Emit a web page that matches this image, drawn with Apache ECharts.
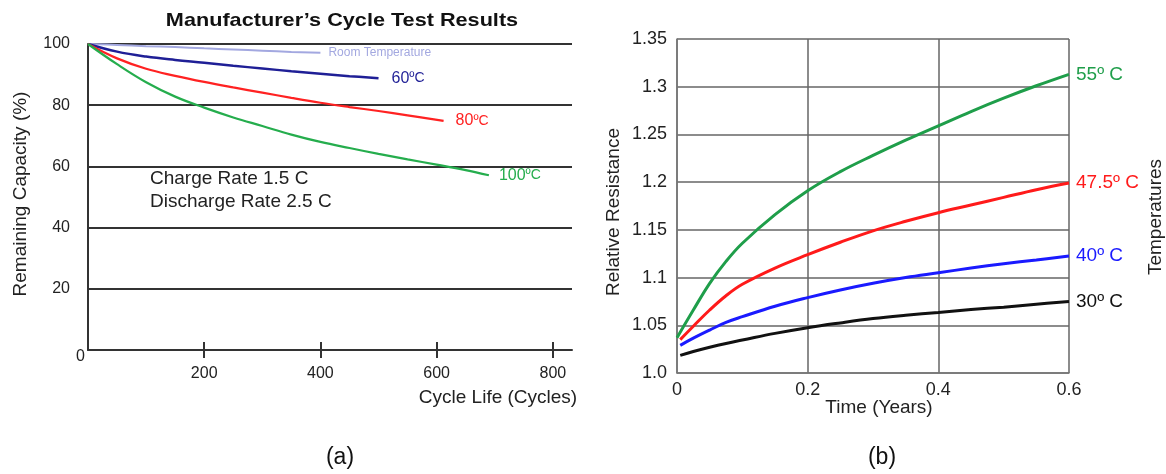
<!DOCTYPE html>
<html><head><meta charset="utf-8">
<script src="https://cdn.jsdelivr.net/npm/echarts@6/dist/echarts.min.js"></script>
<style>html,body{margin:0;padding:0;background:#fff}#c{width:1166px;height:474px}</style>
</head><body><div id="c"></div>
<script>
// ---------- Chart (a): Manufacturer's Cycle Test Results ----------
const leftXTicks = [200, 400, 600, 800];
const leftYTicks = [0, 20, 40, 60, 80, 100];

const roomCycles = [0, 50, 100, 150, 200, 250, 300, 350, 400];
const roomCap    = [100, 99.7, 99.3, 99.0, 98.6, 98.2, 97.8, 97.4, 97.1];

const c60Cycles = [0, 50, 100, 150, 200, 250, 300, 350, 400, 450, 500];
const c60Cap    = [100, 97.5, 95.9, 94.8, 93.9, 92.9, 92.0, 91.1, 90.3, 89.5, 88.8];

const c80Cycles = [0, 50, 100, 150, 200, 250, 300, 350, 400, 450, 500, 550, 612];
const c80Cap    = [100, 95.3, 91.9, 89.6, 87.6, 85.8, 84.1, 82.4, 80.8, 79.4, 78.1, 76.7, 74.9];

const c100Cycles = [0, 50, 100, 150, 200, 250, 300, 350, 400, 450, 500, 550, 600, 650, 690];
const c100Cap    = [100, 93.4, 87.5, 82.8, 79.2, 76.0, 73.2, 70.4, 68.0, 66.0, 64.1, 62.3, 60.6, 58.8, 57.1];

// ---------- Chart (b): Relative Resistance vs Time ----------
const rightXLabels = ['0', '0.2', '0.4', '0.6'];
const rightYLabels = ['1.0', '1.05', '1.1', '1.15', '1.2', '1.25', '1.3', '1.35'];

const t55 = [0.0, 0.025, 0.05, 0.075, 0.1, 0.15, 0.2, 0.25, 0.3, 0.35, 0.4, 0.45, 0.5, 0.55, 0.6];
const r55 = [1.037, 1.066, 1.094, 1.117, 1.136, 1.166, 1.191, 1.211, 1.228, 1.244, 1.259, 1.274, 1.288, 1.301, 1.313];

const t475 = [0.005, 0.025, 0.05, 0.075, 0.1, 0.15, 0.2, 0.25, 0.3, 0.35, 0.4, 0.45, 0.5, 0.55, 0.6];
const r475 = [1.035, 1.049, 1.066, 1.081, 1.093, 1.110, 1.124, 1.137, 1.149, 1.159, 1.168, 1.176, 1.184, 1.192, 1.199];

const t40 = [0.005, 0.025, 0.05, 0.075, 0.1, 0.15, 0.2, 0.25, 0.3, 0.35, 0.4, 0.45, 0.5, 0.55, 0.6];
const r40 = [1.029, 1.0365, 1.045, 1.053, 1.059, 1.070, 1.079, 1.087, 1.094, 1.100, 1.105, 1.110, 1.1145, 1.1185, 1.1225];

const t30 = [0.005, 0.025, 0.05, 0.075, 0.1, 0.15, 0.2, 0.25, 0.3, 0.35, 0.4, 0.45, 0.5, 0.55, 0.6];
const r30 = [1.0185, 1.0225, 1.027, 1.031, 1.0345, 1.0415, 1.0475, 1.0525, 1.057, 1.0605, 1.0635, 1.0665, 1.069, 1.072, 1.075];

const zip = (a, b) => a.map((v, i) => [v, b[i]]);
const FONT = '"Liberation Sans", Arial, sans-serif';

const chart = echarts.init(document.getElementById('c'), null, {renderer: 'canvas'});

function leftLine(name, xs, ys, color, width, labelRich, dist) {
  return {
    type: 'line', name: name, xAxisIndex: 0, yAxisIndex: 0,
    data: zip(xs, ys), smooth: 0.4, showSymbol: false, symbol: 'none',
    lineStyle: {color: color, width: width}, itemStyle: {color: color},
    endLabel: {show: true, formatter: labelRich, distance: dist, color: color, fontFamily: FONT,
      rich: {n: {fontSize: 16, color: color, fontFamily: FONT}, u: {fontSize: 14, color: color, fontFamily: FONT}}},
    emphasis: {disabled: true}, silent: true, z: 3
  };
}
function rightLine(name, xs, ys, color, label) {
  return {
    type: 'line', name: name, xAxisIndex: 2, yAxisIndex: 1,
    data: zip(xs, ys), smooth: 0.4, showSymbol: false, symbol: 'none',
    lineStyle: {color: color, width: 3}, itemStyle: {color: color},
    endLabel: {show: true, formatter: label, distance: 7, color: color, fontSize: 19, fontFamily: FONT},
    emphasis: {disabled: true}, silent: true, z: 3
  };
}

chart.setOption({
  animation: false,
  backgroundColor: '#fff',
  textStyle: {fontFamily: FONT},
  grid: [
    {left: 88, right: 594, top: 44, bottom: 124, containLabel: false},
    {left: 677, right: 97, top: 39, bottom: 101, containLabel: false}
  ],
  xAxis: [
    {gridIndex: 0, type: 'value', min: 0, max: 833, interval: 200, position: 'bottom',
     axisLine: {show: true, lineStyle: {color: '#333', width: 2}},
     axisTick: {show: true, customValues: leftXTicks, length: 8, lineStyle: {color: '#333', width: 2}},
     axisLabel: {customValues: leftXTicks, color: '#222', fontSize: 16, margin: 16, fontFamily: FONT},
     splitLine: {show: false}},
    {gridIndex: 0, type: 'value', min: 0, max: 833, interval: 200, position: 'bottom',
     axisLine: {show: false},
     axisTick: {show: true, inside: true, customValues: leftXTicks, length: 8, lineStyle: {color: '#333', width: 2}},
     axisLabel: {show: false}, splitLine: {show: false}},
    {gridIndex: 1, type: 'value', min: 0, max: 0.6, interval: 0.2,
     axisLine: {show: true, lineStyle: {color: '#777', width: 1.5}},
     axisTick: {show: false},
     axisLabel: {color: '#222', fontSize: 18, margin: 8, fontFamily: FONT,
       formatter: v => rightXLabels[Math.round(v / 0.2)]},
     splitLine: {show: true, lineStyle: {color: '#666', width: 1.5}}}
  ],
  yAxis: [
    {gridIndex: 0, type: 'value', min: 0, max: 100, interval: 20,
     axisLine: {show: true, lineStyle: {color: '#333', width: 2}},
     axisTick: {show: false},
     axisLabel: {margin: 3, fontFamily: FONT,
       formatter: v => v === 0 ? '{z|' + leftYTicks[0] + '}' : '{n|' + leftYTicks[leftYTicks.indexOf(v)] + '}',
       rich: {n: {fontSize: 16, color: '#222', padding: [0, 15, 0, 0], fontFamily: FONT},
              z: {fontSize: 16, color: '#222', padding: [14, 0, 0, 0], fontFamily: FONT}}},
     splitLine: {show: true, lineStyle: {color: '#333', width: 2}}},
    {gridIndex: 1, type: 'value', min: 1.0, max: 1.35, interval: 0.05,
     axisLine: {show: true, lineStyle: {color: '#777', width: 1.5}},
     axisTick: {show: false},
     axisLabel: {color: '#222', fontSize: 18, margin: 10, fontFamily: FONT,
       formatter: v => rightYLabels[Math.round((v - 1) / 0.05)]},
     splitLine: {show: true, lineStyle: {color: '#666', width: 1.5}}}
  ],
  series: [
    leftLine('Room Temperature', roomCycles, roomCap, '#a3a8e0', 2, 'Room Temperature', 8),
    leftLine('60ºC', c60Cycles, c60Cap, '#1f1f96', 2.5, '{n|60}{u|ºC}', 13),
    leftLine('80ºC', c80Cycles, c80Cap, '#ff2222', 2.2, '{n|80}{u|ºC}', 12),
    leftLine('100ºC', c100Cycles, c100Cap, '#25ad4d', 2.2, '{n|100}{u|ºC}', 10),
    rightLine('55º C', t55, r55, '#1f9e4a', '55º C'),
    rightLine('47.5º C', t475, r475, '#ff1a1a', '47.5º C'),
    rightLine('40º C', t40, r40, '#1a1aff', '40º C'),
    rightLine('30º C', t30, r30, '#111111', '30º C')
  ],
  graphic: [
    {type: 'text', x: 342, y: 21, scaleX: 1.14, style: {text: 'Manufacturer\u2019s Cycle Test Results', font: 'bold 19px ' + FONT, fill: '#111', align: 'center', verticalAlign: 'middle'}},
    {type: 'text', x: 21, y: 194, rotation: Math.PI / 2, style: {text: 'Remaining Capacity (%)', font: '19px ' + FONT, fill: '#222', align: 'center', verticalAlign: 'middle'}},
    {type: 'text', x: 498, y: 398, style: {text: 'Cycle Life (Cycles)', font: '19px ' + FONT, fill: '#222', align: 'center', verticalAlign: 'middle'}},
    {type: 'text', x: 150, y: 179, style: {text: 'Charge Rate 1.5 C', font: '19px ' + FONT, fill: '#222', align: 'left', verticalAlign: 'middle'}},
    {type: 'text', x: 150, y: 202, style: {text: 'Discharge Rate 2.5 C', font: '19px ' + FONT, fill: '#222', align: 'left', verticalAlign: 'middle'}},
    {type: 'text', x: 614, y: 212, rotation: Math.PI / 2, style: {text: 'Relative Resistance', font: '19px ' + FONT, fill: '#222', align: 'center', verticalAlign: 'middle'}},
    {type: 'text', x: 879, y: 408, style: {text: 'Time (Years)', font: '19px ' + FONT, fill: '#222', align: 'center', verticalAlign: 'middle'}},
    {type: 'text', x: 1156, y: 217, rotation: Math.PI / 2, style: {text: 'Temperatures', font: '19px ' + FONT, fill: '#222', align: 'center', verticalAlign: 'middle'}},
    {type: 'text', x: 340, y: 458, style: {text: '(a)', font: '23px ' + FONT, fill: '#111', align: 'center', verticalAlign: 'middle'}},
    {type: 'text', x: 882, y: 458, style: {text: '(b)', font: '23px ' + FONT, fill: '#111', align: 'center', verticalAlign: 'middle'}}
  ]
});
</script></body></html>
